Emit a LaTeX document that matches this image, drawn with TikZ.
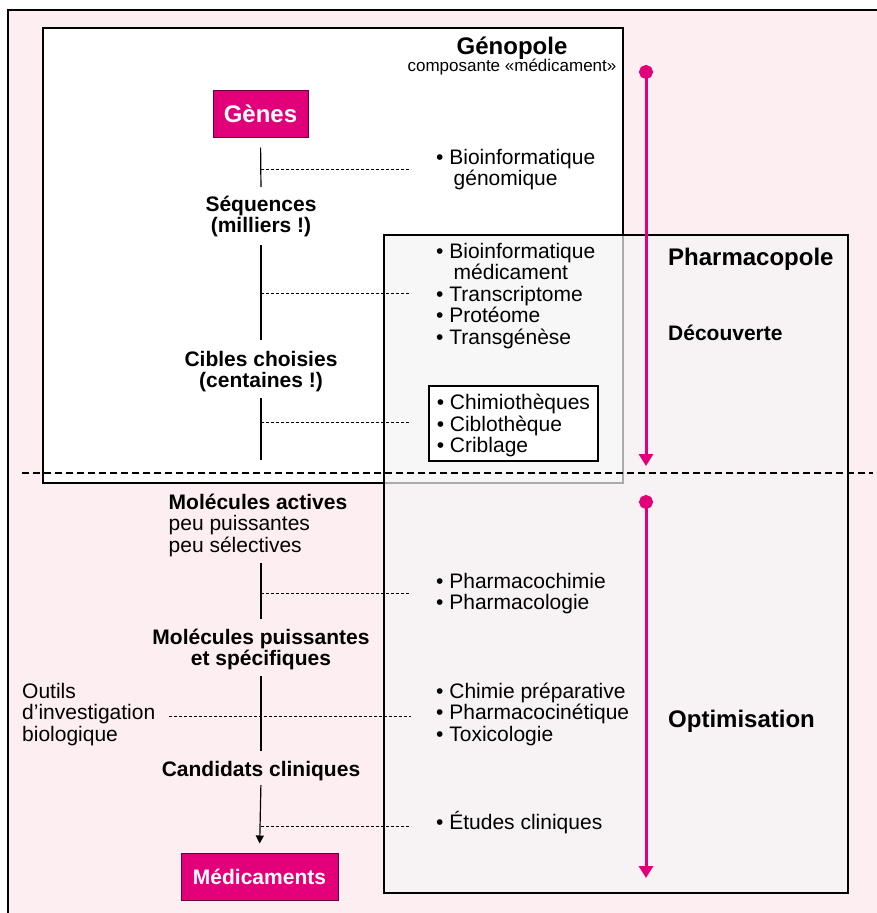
\documentclass[tikz,border=0pt]{standalone}
\usepackage{fontspec}
\setmainfont{Liberation Sans}
\usetikzlibrary{arrows.meta}

\definecolor{pinkmag}{HTML}{E2007A}
\definecolor{rosebg}{HTML}{FDEEF1}
\definecolor{greyveil}{RGB}{245,245,245}

\newcommand{\lnstrut}{\rule{0pt}{20pt}}
\newcommand{\ind}{\hspace*{17.5pt}}

\tikzset{
  txt/.style={inner sep=0pt, font={\fontsize{21}{21.5}\selectfont\lineskiplimit=-30pt}},
  lbl/.style={inner sep=0pt, align=center, anchor=north,
    font={\fontsize{21}{21.5}\selectfont\bfseries\lineskiplimit=-30pt}},
  titre/.style={inner sep=0pt, font={\fontsize{24}{26}\selectfont\bfseries}},
  liste/.style={txt, align=left, anchor=north west},
  rouge/.style={fill=pinkmag, draw=black!55!pinkmag, line width=1pt, text=white,
    inner sep=0pt, font={\fontsize{21}{23}\selectfont\bfseries}},
  vline/.style={line width=1.2pt},
  conn/.style={line width=0.9pt, dash pattern=on 3pt off 2pt},
  fleche/.style={pinkmag, line width=3pt,
    {Circle[length=14pt]}-{Triangle[length=12pt,width=14pt]}}
}

\begin{document}
\begin{tikzpicture}[x=1pt,y=-1pt]
\useasboundingbox (0,0) rectangle (877,913);
% cadres
\draw[line width=1.5pt, fill=rosebg] (8,10) rectangle (895,935);
\draw[line width=1.5pt, fill=white] (43,28) rectangle (623,483);
\draw[line width=1.5pt, fill=greyveil, fill opacity=0.7] (384,235) rectangle (848,893);
\coordinate (sepL) at (22,473);
\coordinate (sepR) at (873,473);
\draw[line width=2.5pt, dash pattern=on 7pt off 4pt] (sepL) -- (sepR);

% fleches roses
\coordinate (d1) at (646,65);
\coordinate (f1) at (646,466);
\coordinate (d2) at (646,495);
\coordinate (f2) at (646,878);
\draw[fleche] (d1) -- (f1);
\draw[fleche] (d2) -- (f2);

% titres
\node[titre, anchor=base] (geno) at (512,54) {Génopole};
\node[txt, anchor=base, font={\fontsize{17}{19}\selectfont}] (compo) at (512,71) {composante «médicament»};
\node[titre, anchor=base west] (pharma) at (668,265) {Pharmacopole};
\node[titre, anchor=base west, font={\fontsize{21}{23}\selectfont\bfseries}] (decouv) at (668,340) {Découverte};
\node[titre, anchor=base west] (optim) at (668,727) {Optimisation};

% axe central
\node[rouge, minimum width=95pt, minimum height=47pt, font={\fontsize{24}{26}\selectfont\bfseries}] (genes) at (260.5,113.5) {Gènes};
\node[lbl] (seq) at (261,191) {\lnstrut Séquences\\(milliers !)};
\node[lbl] (cibles) at (261,346) {\lnstrut Cibles choisies\\(centaines !)};
\node[liste] (molact) at (168.5,489) {\lnstrut\textbf{Molécules actives}\\peu puissantes\\peu sélectives};
\node[lbl] (molpui) at (261,624) {\lnstrut Molécules puissantes\\et spécifiques};
\node[lbl, anchor=base] (cand) at (261,776) {Candidats cliniques};
\node[rouge, minimum width=157pt, minimum height=47pt] (med) at (259.5,876.5) {Médicaments};
\node[liste] (outils) at (22,678) {\lnstrut Outils\\d’investigation\\biologique};

\draw[vline, shorten <=10pt, shorten >=4pt] (genes.south) -- (seq.north);
\draw[vline, shorten <=7.5pt, shorten >=6pt] (seq.south) -- (cibles.north);
\draw[vline, shorten <=5.5pt, shorten >=29pt] (cibles.south) -- (cibles.south |- molact.north);
\draw[vline, shorten <=6.5pt, shorten >=5pt] (molpui.north |- molact.south) -- (molpui.north);
\draw[vline, shorten <=6pt, shorten >=9.5pt] (molpui.south) -- (cand.north);
\draw[vline, shorten <=4.5pt, shorten >=9pt, -{Triangle[length=8pt,width=8pt]}] (cand.south) -- (med.north);

% listes
\node[liste] (bioG) at (436,144) {\lnstrut• Bioinformatique\\\ind génomique};
\node[liste] (bioM) at (436,238) {\lnstrut• Bioinformatique\\\ind médicament\\• Transcriptome\\• Protéome\\• Transgénèse};
\node[liste, draw, fill=white, line width=1.5pt, inner xsep=8pt, inner ysep=4pt] (chimio) at (428,385)
  {\lnstrut• Chimiothèques\\• Ciblothèque\\• Criblage};
\node[liste] (pharmaco) at (436,568) {\lnstrut• Pharmacochimie\\• Pharmacologie};
\node[liste] (chimie) at (436,678) {\lnstrut• Chimie préparative\\• Pharmacocinétique\\• Toxicologie};
\node[txt, anchor=base west] (etudes) at (436,829) {• Études cliniques};

% liaisons
\coordinate (k1) at (261,169);
\coordinate (k2) at (261,293);
\coordinate (k3) at (261,422);
\coordinate (k4) at (261,593);
\coordinate (k5) at (169,716);
\coordinate (k6) at (261,826);
\draw[conn, shorten >=25pt] (k1) -- (k1 -| bioG.west);
\draw[conn, shorten >=25pt] (k2) -- (k2 -| bioM.west);
\draw[conn, shorten >=17pt] (k3) -- (k3 -| chimio.west);
\draw[conn, shorten >=25pt] (k4) -- (k4 -| pharmaco.west);
\draw[conn, shorten >=25pt] (k5) -- (k5 -| chimie.west);
\draw[conn, shorten >=25pt] (k6) -- (k6 -| etudes.west);
\end{tikzpicture}
\end{document}
